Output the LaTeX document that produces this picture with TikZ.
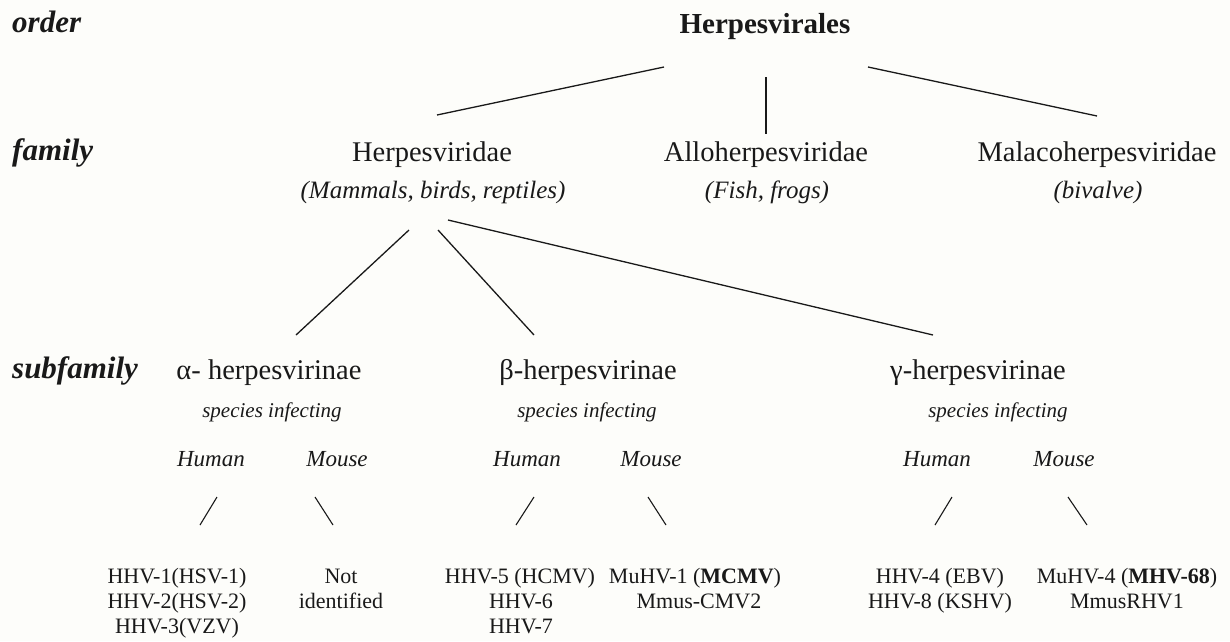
\documentclass[tikz,border=0pt]{standalone}
\usepackage{fontspec}
\setmainfont{Liberation Serif}
\definecolor{bgc}{RGB}{253,253,250}
\definecolor{ink}{RGB}{25,25,25}
\begin{document}
\begin{tikzpicture}[x=1pt,y=-1pt,
  rank/.style={font=\fontsize{31}{36}\selectfont\bfseries\itshape, anchor=base west, inner sep=0pt, text=ink},
  toptaxon/.style={font=\fontsize{29}{34}\selectfont\bfseries, anchor=base, inner sep=0pt, text=ink},
  taxon/.style={font=\fontsize{28.5}{33}\selectfont, anchor=base, inner sep=0pt, text=ink},
  hosts/.style={font=\fontsize{25}{30}\selectfont\itshape, anchor=base, inner sep=0pt, text=ink},
  spec/.style={font=\fontsize{21}{25}\selectfont\itshape, anchor=base, inner sep=0pt, text=ink},
  hm/.style={font=\fontsize{23}{27}\selectfont\itshape, anchor=base, inner sep=0pt, text=ink},
  virus/.style={font=\fontsize{22}{25}\selectfont, anchor=base, inner sep=0pt, text=ink},
  link/.style={draw=ink, line width=1.3pt},
  tick/.style={draw=ink, line width=1.1pt}]
\fill[bgc] (0,0) rectangle (1230,641);
\useasboundingbox (0,0) rectangle (1230,641);

% rank labels
\node[rank] (rorder) at (12,32) {order};
\node[rank] (rfamily) at (12,160) {family};
\node[rank] (rsub) at (12,378) {subfamily};

% order
\node[toptaxon] (herpesvirales) at (765,33) {Herpesvirales};

% families
\node[taxon] (herpesviridae) at (432,161) {Herpesviridae};
\node[hosts] (hvhosts) at (433,198) {(Mammals, birds, reptiles)};
\node[taxon] (allo) at (766,161) {Alloherpesviridae};
\node[hosts] (allohosts) at (767,198) {(Fish, frogs)};
\node[taxon] (malaco) at (1097,161) {Malacoherpesviridae};
\node[hosts] (malacohosts) at (1098,198) {(bivalve)};

% subfamilies
\node[taxon] (alpha) at (269,379) {α- herpesvirinae};
\node[spec] (alphaspec) at (272,417) {species infecting};
\node[hm] (alphahum) at (211,466) {Human};
\node[hm] (alphamou) at (337,466) {Mouse};

\node[taxon] (beta) at (588,379) {β-herpesvirinae};
\node[spec] (betaspec) at (587,417) {species infecting};
\node[hm] (betahum) at (527,466) {Human};
\node[hm] (betamou) at (651,466) {Mouse};

\node[taxon] (gamma) at (978,379) {γ-herpesvirinae};
\node[spec] (gammaspec) at (998,417) {species infecting};
\node[hm] (gammahum) at (937,466) {Human};
\node[hm] (gammamou) at (1064,466) {Mouse};

% viruses
\node[virus] (alphavh1) at (177,583) {HHV-1(HSV-1)};
\node[virus] (alphavh2) at (177,608) {HHV-2(HSV-2)};
\node[virus] (alphavh3) at (177,633) {HHV-3(VZV)};
\node[virus] (alphavm1) at (341,583) {Not};
\node[virus] (alphavm2) at (341,608) {identified};
\node[virus] (betavh1) at (520,583) {HHV-5 (HCMV)};
\node[virus] (betavh2) at (521,608) {HHV-6};
\node[virus] (betavh3) at (521,633) {HHV-7};
\node[virus] (betavm1) at (695,583) {MuHV-1 (\textbf{MCMV})};
\node[virus] (betavm2) at (699,608) {Mmus-CMV2};
\node[virus] (gammavh1) at (940,583) {HHV-4 (EBV)};
\node[virus] (gammavh2) at (940,608) {HHV-8 (KSHV)};
\node[virus] (gammavm1) at (1127,583) {MuHV-4 (\textbf{MHV-68})};
\node[virus] (gammavm2) at (1127,608) {MmusRHV1};

% connector end points
\coordinate (o1) at (664,67);  \coordinate (f1) at (437,115);
\coordinate (o2) at (766,77);  \coordinate (f2) at (766,134);
\coordinate (o3) at (868,67);  \coordinate (f3) at (1097,116);
\coordinate (h1) at (409,230); \coordinate (s1) at (296,335);
\coordinate (h2) at (438,230); \coordinate (s2) at (534,335);
\coordinate (h3) at (448,220); \coordinate (s3) at (933,335);
\coordinate (ah1) at (217,497); \coordinate (ah2) at (200,525);
\coordinate (am1) at (315,497); \coordinate (am2) at (333,525);
\coordinate (bh1) at (534,497); \coordinate (bh2) at (516,525);
\coordinate (bm1) at (648,497); \coordinate (bm2) at (666,525);
\coordinate (gh1) at (952,497); \coordinate (gh2) at (935,525);
\coordinate (gm1) at (1068,497); \coordinate (gm2) at (1087,525);

\draw[link] (o1) -- (f1);
\draw[link] (o2) -- (f2);
\draw[link] (o3) -- (f3);
\draw[link] (h1) -- (s1);
\draw[link] (h2) -- (s2);
\draw[link] (h3) -- (s3);
\draw[tick] (ah1) -- (ah2);
\draw[tick] (am1) -- (am2);
\draw[tick] (bh1) -- (bh2);
\draw[tick] (bm1) -- (bm2);
\draw[tick] (gh1) -- (gh2);
\draw[tick] (gm1) -- (gm2);
\end{tikzpicture}
\end{document}
